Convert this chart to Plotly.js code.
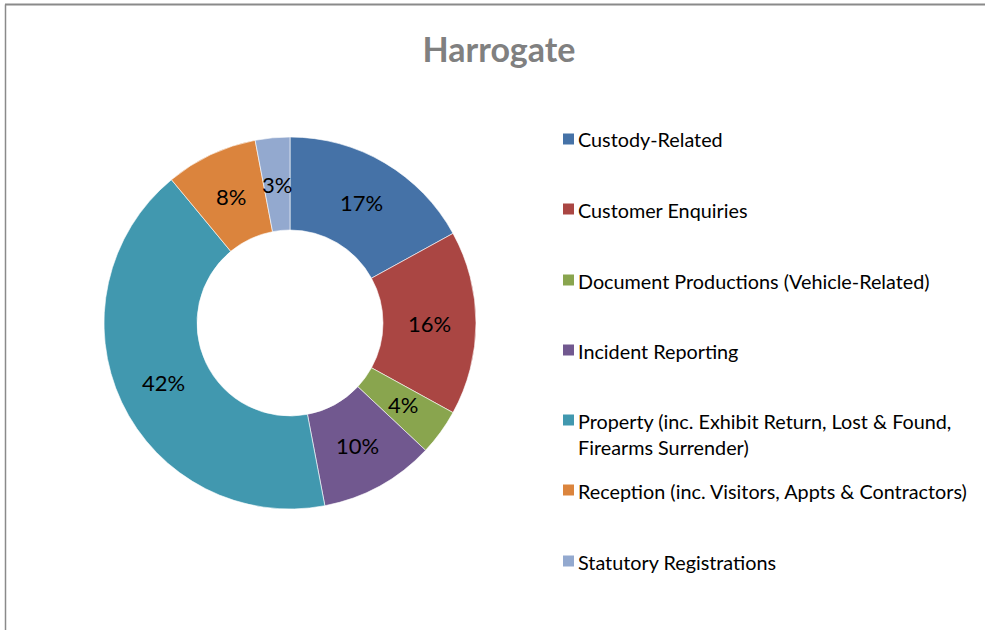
<!DOCTYPE html>
<html>
<head>
<meta charset="utf-8">
<script src="https://cdn.plot.ly/plotly-3.0.1.min.js"></script>
<style>
html,body{margin:0;padding:0;background:#fff;}
#chart{width:985px;height:630px;}
</style>
</head>
<body>
<div id="chart"></div>
<script>
// Data
const categories = [
  "Custody-Related",
  "Customer Enquiries",
  "Document Productions (Vehicle-Related)",
  "Incident Reporting",
  "Property (inc. Exhibit Return, Lost & Found, Firearms Surrender)",
  "Reception (inc. Visitors, Appts & Contractors)",
  "Statutory Registrations"
];
const legendLabels = [
  "Custody-Related",
  "Customer Enquiries",
  "Document Productions (Vehicle-Related)",
  "Incident Reporting",
  "Property (inc. Exhibit Return, Lost & Found,<br>Firearms Surrender)",
  "Reception (inc. Visitors, Appts & Contractors)",
  "Statutory Registrations"
];
const shares = [17, 16, 4, 10, 42, 8, 3];
const colors = ["#4572A7", "#AA4643", "#89A54E", "#71588F", "#4198AF", "#DB843D", "#93A9CF"];
const chartTitle = "Harrogate";

const W = 985, H = 630;
const px = x => x / W;
const py = y => 1 - y / H;

const FONT = "Lato, 'Open Sans', sans-serif";

// donut geometry (pixels)
const CX = 290, CY = 323, R = 186, HOLE = 0.5;

const trace = {
  type: "pie",
  labels: categories,
  values: shares,
  hole: HOLE,
  sort: false,
  direction: "clockwise",
  rotation: 0,
  marker: {colors: colors, line: {color: "rgba(255,255,255,0.6)", width: 1}},
  textinfo: "none",
  domain: {x: [px(CX - R), px(CX + R)], y: [py(CY + R), py(CY - R)]},
  showlegend: false,
  hoverinfo: "label+percent"
};

const annotations = [];
const shapes = [];

// Percent labels at the middle of each ring segment, derived from the data
const total = shares.reduce((a, b) => a + b, 0);
const midR = R * (1 + HOLE) / 2;
let cum = 0;
shares.forEach((v) => {
  const mid = (cum + v / 2) / total * 2 * Math.PI;
  cum += v;
  const x = CX + midR * Math.sin(mid);
  const y = CY - midR * Math.cos(mid);
  annotations.push({xref: "paper", yref: "paper", x: px(x), y: py(y),
    xanchor: "center", yanchor: "middle", showarrow: false,
    text: Math.round(v / total * 100) + "%",
    font: {family: FONT, size: 22, color: "#000"}});
});

// Legend built from categories/colors
const legendY = [139, 209, 280, 350, 420, 490, 561];
legendLabels.forEach((lab, i) => {
  const y = legendY[i];
  shapes.push({type: "rect", xref: "paper", yref: "paper",
    x0: px(563), x1: px(574), y0: py(y + 5.5), y1: py(y - 5.5),
    fillcolor: colors[i], line: {width: 0}});
  annotations.push({xref: "paper", yref: "paper", x: px(576), y: py(y - 13.5),
    xanchor: "left", yanchor: "top", align: "left", showarrow: false,
    text: lab, font: {family: FONT, size: 19.8, color: "#000"}});
});

// chart border (top and left visible)
shapes.push({type: "line", xref: "paper", yref: "paper", x0: px(5), x1: 1, y0: py(4.5), y1: py(4.5), line: {color: "#8a8a8a", width: 2}});
shapes.push({type: "line", xref: "paper", yref: "paper", x0: px(5.5), x1: px(5.5), y0: py(4.5), y1: 0, line: {color: "#8a8a8a", width: 1.5}});

const layout = {
  width: W, height: H,
  margin: {l: 0, r: 0, t: 0, b: 0},
  paper_bgcolor: "#fff",
  title: {text: "<b>" + chartTitle + "</b>", x: px(499), xanchor: "center", y: py(50), yanchor: "middle",
    font: {family: FONT, size: 34, color: "#808080"}},
  annotations: annotations,
  shapes: shapes,
  showlegend: false
};

Plotly.newPlot("chart", [trace], layout, {displayModeBar: false, staticPlot: true});
</script>
</body>
</html>
